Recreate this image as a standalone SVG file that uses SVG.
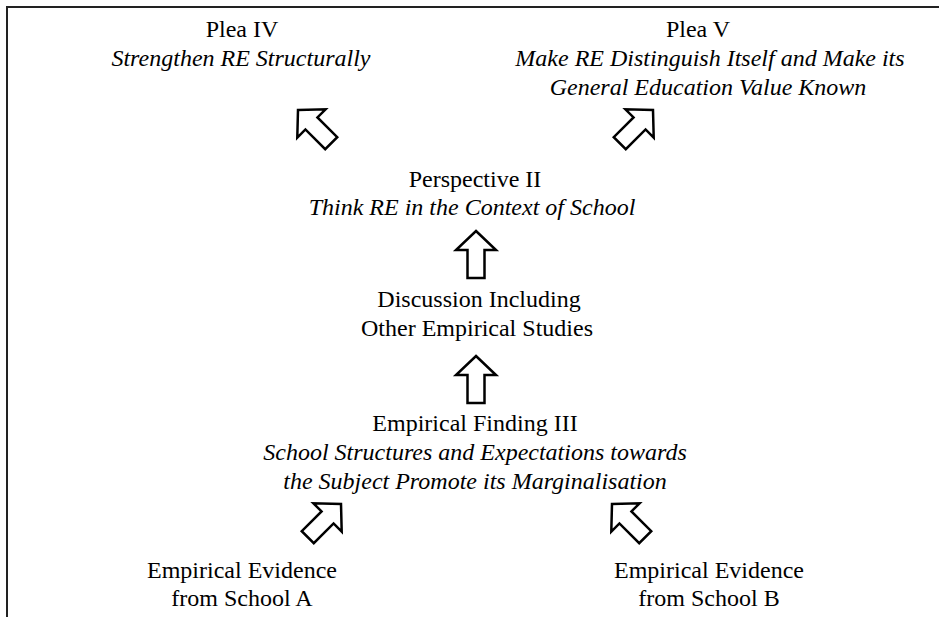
<svg xmlns="http://www.w3.org/2000/svg" width="939" height="617" viewBox="0 0 939 617">
<defs>
<style>
text{font-family:"Liberation Serif","Times New Roman",serif;font-size:24px;fill:#000;text-anchor:middle}
.it{font-style:italic}
.arrow{fill:#fff;stroke:#000;stroke-width:2.5;stroke-linejoin:miter}
.frame{stroke:#222;stroke-width:2;fill:none}
</style>
<path id="arr" d="M0,0 L20,19 L8.5,19 L8.5,47 L-8.5,47 L-8.5,19 L-20,19 Z"/>
</defs>
<rect width="939" height="617" fill="#fff"/>
<path class="frame" d="M7,617 V7 H939"/>

<g id="plea4">
<text x="242" y="37">Plea IV</text>
<text class="it" x="241" y="66">Strengthen RE Structurally</text>
</g>
<g id="plea5">
<text x="698" y="37">Plea V</text>
<text class="it" x="710" y="66">Make RE Distinguish Itself and Make its</text>
<text class="it" x="708" y="95">General Education Value Known</text>
</g>
<g id="perspective2">
<text x="475" y="187">Perspective II</text>
<text class="it" x="472" y="215">Think RE in the Context of School</text>
</g>
<g id="discussion">
<text x="479" y="307">Discussion Including</text>
<text x="477" y="336">Other Empirical Studies</text>
</g>
<g id="finding3">
<text x="475" y="431">Empirical Finding III</text>
<text class="it" x="475" y="460">School Structures and Expectations towards</text>
<text class="it" x="475" y="489">the Subject Promote its Marginalisation</text>
</g>
<g id="schoolA">
<text x="242" y="578">Empirical Evidence</text>
<text x="242" y="606">from School A</text>
</g>
<g id="schoolB">
<text x="709" y="578">Empirical Evidence</text>
<text x="709" y="606">from School B</text>
</g>

<g id="connectors">
<use href="#arr" class="arrow" transform="translate(298,110) rotate(-45)"/>
<use href="#arr" class="arrow" transform="translate(653,110) rotate(45)"/>
<use href="#arr" class="arrow" transform="translate(476,231)"/>
<use href="#arr" class="arrow" transform="translate(476,356)"/>
<use href="#arr" class="arrow" transform="translate(341,504) rotate(45)"/>
<use href="#arr" class="arrow" transform="translate(612,504) rotate(-45)"/>
</g>
</svg>
